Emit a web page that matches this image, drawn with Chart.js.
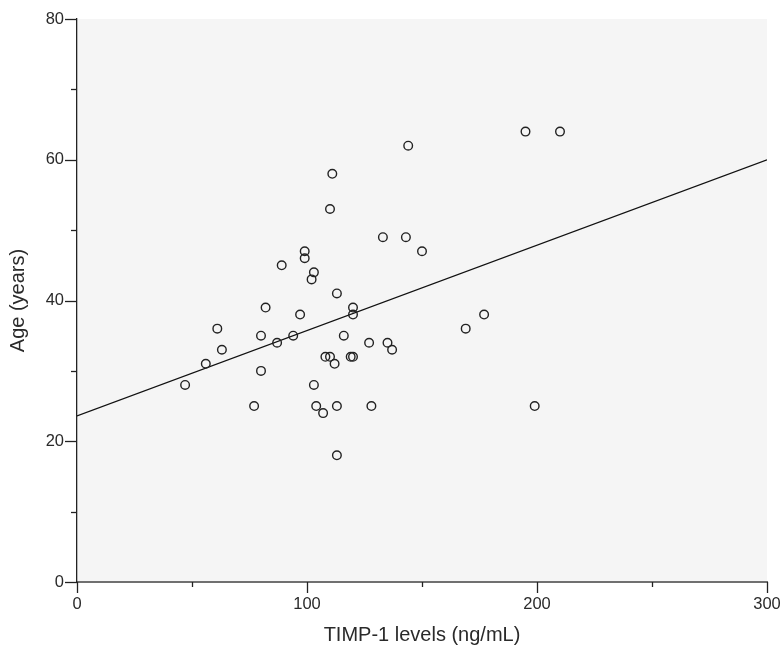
<!DOCTYPE html>
<html>
<head>
<meta charset="utf-8">
<script src="https://cdn.jsdelivr.net/npm/chart.js@4.4.1/dist/chart.umd.min.js"></script>
<style>
  html, body { margin: 0; padding: 0; background: #fff; }
  #wrap { width: 780px; height: 649px; }
</style>
</head>
<body>
<div id="wrap"><canvas id="grafico"></canvas></div>
<script>
// TIMP-1 (ng/mL) y edad (años)
const timp1 = [47, 56, 61, 63, 77, 80, 80, 82, 87, 89, 94, 97, 99, 99, 102, 103, 103, 104, 107, 108,
               110, 110, 111, 112, 113, 113, 113, 116, 120, 120, 119, 120, 127, 128, 133, 135, 137, 143,
               144, 150, 169, 177, 195, 199, 210];
const edad = [28, 31, 36, 33, 25, 35, 30, 39, 34, 45, 35, 38, 47, 46, 43, 44, 28, 25, 24, 32,
              32, 53, 58, 31, 18, 41, 25, 35, 39, 38, 32, 32, 34, 25, 49, 34, 33, 49,
              62, 47, 36, 38, 64, 25, 64];
// recta de regresión (extremos)
const rectaX = [0, 300];
const rectaY = [23.6, 60];

const xTicks = [0, 100, 200, 300];
const yTicks = [0, 20, 40, 60, 80];

const puntos = timp1.map((x, i) => ({ x: x, y: edad[i] }));
const recta = rectaX.map((x, i) => ({ x: x, y: rectaY[i] }));

// fondo gris del área y marcas de los ejes
const fondoYMarcas = {
    id: 'fondoYMarcas',
    beforeDraw(chart) {
        const a = chart.chartArea, ctx = chart.ctx;
        ctx.save();
        ctx.fillStyle = '#f5f5f5';
        ctx.fillRect(a.left, a.top, a.right - a.left, a.bottom - a.top);
        ctx.restore();
    },
    afterDraw(chart) {
        const ctx = chart.ctx, a = chart.chartArea;
        const sx = chart.scales.x, sy = chart.scales.y;
        ctx.save();
        ctx.lineWidth = 1.3;
        ctx.strokeStyle = '#222';
        for (let v = 0; v <= 80; v += 10) {
            const p = Math.round(sy.getPixelForValue(v)) + 0.5;
            const len = (v % 20 === 0) ? 12 : 6;
            ctx.beginPath();
            ctx.moveTo(a.left - len, p);
            ctx.lineTo(a.left, p);
            ctx.stroke();
        }
        for (let v = 0; v <= 300; v += 50) {
            const p = Math.round(sx.getPixelForValue(v)) + 0.5;
            const len = (v % 100 === 0) ? 11 : 5;
            ctx.beginPath();
            ctx.moveTo(p, a.bottom);
            ctx.lineTo(p, a.bottom + len);
            ctx.stroke();
        }
        ctx.restore();
    }
};

const fuente = { family: '"Liberation Sans", Arial, sans-serif' };

new Chart(document.getElementById('grafico').getContext('2d'), {
    type: 'scatter',
    data: {
        datasets: [{
            data: puntos,
            pointStyle: 'circle',
            pointRadius: 4.3,
            pointBorderWidth: 1.4,
            borderColor: '#222',
            backgroundColor: 'rgba(0,0,0,0)',
            order: 1
        }, {
            type: 'line',
            data: recta,
            borderColor: '#111',
            borderWidth: 1.3,
            pointRadius: 0,
            fill: false,
            order: 2
        }]
    },
    plugins: [fondoYMarcas],
    options: {
        responsive: true,
        maintainAspectRatio: false,
        animation: false,
        layout: { padding: { top: 19, right: 13, left: 0, bottom: 0 } },
        plugins: {
            legend: { display: false },
            tooltip: { enabled: false }
        },
        scales: {
            x: {
                type: 'linear',
                min: 0, max: 300,
                afterFit: s => { s.height = 67; s.paddingRight = 0; s.paddingLeft = 0; },
                afterBuildTicks: s => { s.ticks = xTicks.map(v => ({ value: v })); },
                grid: { display: true, drawOnChartArea: false, tickLength: 10, tickColor: 'rgba(0,0,0,0)' },
                border: { display: true, color: '#707070', width: 2 },
                ticks: { color: '#2a2a2a', padding: 3, maxRotation: 0, font: { ...fuente, size: 16.5 } },
                title: {
                    display: true,
                    text: 'TIMP-1 levels (ng/mL)',
                    color: '#2a2a2a',
                    padding: { top: 2, bottom: 2 },
                    font: { ...fuente, size: 20 }
                }
            },
            y: {
                min: 0, max: 80,
                afterFit: s => { s.width = 77; s.paddingTop = 0; s.paddingBottom = 0; },
                afterBuildTicks: s => { s.ticks = yTicks.map(v => ({ value: v })); },
                grid: { display: true, drawOnChartArea: false, tickLength: 12, tickColor: 'rgba(0,0,0,0)' },
                border: { display: true, color: '#222', width: 1.3 },
                ticks: { color: '#2a2a2a', padding: 1, font: { ...fuente, size: 16.5 } },
                title: {
                    display: true,
                    text: 'Age (years)',
                    color: '#2a2a2a',
                    padding: { top: 6, bottom: 0 },
                    font: { ...fuente, size: 20 }
                }
            }
        }
    }
});
</script>
</body>
</html>
